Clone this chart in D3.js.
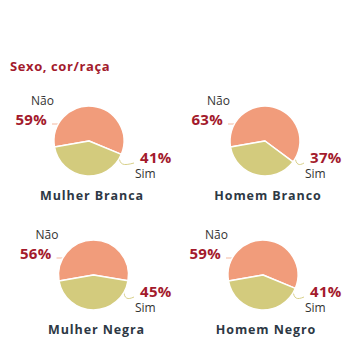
<!DOCTYPE html>
<html><head><meta charset="utf-8">
<script src="https://cdn.jsdelivr.net/npm/d3@7/dist/d3.min.js"></script>
<style>
html,body{margin:0;padding:0;background:#fff;}
svg{display:block;font-family:"Open Sans",sans-serif;}
</style></head>
<body>
<svg id="chart" width="354" height="350"></svg>
<script>
// ---- data ----
const title = "Sexo, cor/raça";
const groups = ["Mulher Branca", "Homem Branco", "Mulher Negra", "Homem Negro"];
const answers = ["Não", "Sim"];
const nao = [59, 63, 56, 59];
const sim = [41, 37, 45, 41];

// ---- layout (positions only) ----
const panels = [
  {cx: 89,  cy: 141, rx: 140},
  {cx: 265, cy: 141, rx: 310},
  {cx: 93.5,cy: 275, rx: 140},
  {cx: 263, cy: 275, rx: 310}
];
const R = 35;
const colors = {"Não": "#f19c7b", "Sim": "#d3cb7d"};
const connColors = {"Não": "#f5b89e", "Sim": "#d8d08a"};
const red = "#a31a2c";

const svg = d3.select("#chart");

svg.append("text").attr("x", 10).attr("y", 71)
  .attr("fill", red).attr("font-weight", 700).attr("font-size", 13)
  .attr("letter-spacing", 0.6).text(title);

const pie = d3.pie().sort(null).value(d => d.value)
  .startAngle(-100 * Math.PI / 180).endAngle(260 * Math.PI / 180);
const arc = d3.arc().innerRadius(0).outerRadius(R);

groups.forEach((g, i) => {
  const p = panels[i];
  const data = [{key: answers[0], value: nao[i]}, {key: answers[1], value: sim[i]}];
  const gg = svg.append("g").attr("transform", `translate(${p.cx},${p.cy})`);

  // connectors
  const ny = -17;
  const nx = -Math.sqrt(R * R - ny * ny);
  gg.append("line").attr("x1", -37).attr("y1", ny).attr("x2", nx).attr("y2", ny)
    .attr("stroke", connColors["Não"]).attr("stroke-width", 1);
  const sa = 118 * Math.PI / 180;
  const sx = (R - 1) * Math.sin(sa), sy = -(R - 1) * Math.cos(sa);
  const ex = p.rx - p.cx - 6, ey = 22;
  gg.append("path")
    .attr("d", `M${sx},${sy} C${sx + 1},${sy + 8} ${sx + 4},${ey + 3} ${ex},${ey}`)
    .attr("fill", "none").attr("stroke", connColors["Sim"]).attr("stroke-width", 1);

  gg.selectAll("path.slice").data(pie(data)).join("path")
    .attr("class", "slice")
    .attr("d", arc)
    .attr("fill", d => colors[d.data.key])
    .attr("stroke", "#fff").attr("stroke-width", 1.5).attr("stroke-linejoin", "round");

  // labels
  gg.append("text").attr("x", -46.5).attr("y", -36).attr("text-anchor", "middle")
    .attr("font-size", 12).attr("fill", "#333").text(answers[0]);
  gg.append("text").attr("x", -42).attr("y", -16).attr("text-anchor", "end")
    .attr("font-size", 15).attr("font-weight", 700).attr("fill", red)
    .attr("letter-spacing", 0.3).text(nao[i] + "%");
  gg.append("text").attr("x", p.rx - p.cx).attr("y", 21.5)
    .attr("font-size", 15).attr("font-weight", 700).attr("fill", red)
    .attr("letter-spacing", 0.3).text(sim[i] + "%");
  gg.append("text").attr("x", p.rx - p.cx - 5).attr("y", 37)
    .attr("font-size", 12).attr("fill", "#333").text(answers[1]);

  // group title
  svg.append("text").attr("x", p.cx + 3).attr("y", p.cy + 59)
    .attr("text-anchor", "middle").attr("font-size", 12.5).attr("font-weight", 700)
    .attr("letter-spacing", 0.9).attr("fill", "#2d3844").text(g);
});
</script>
</body></html>
